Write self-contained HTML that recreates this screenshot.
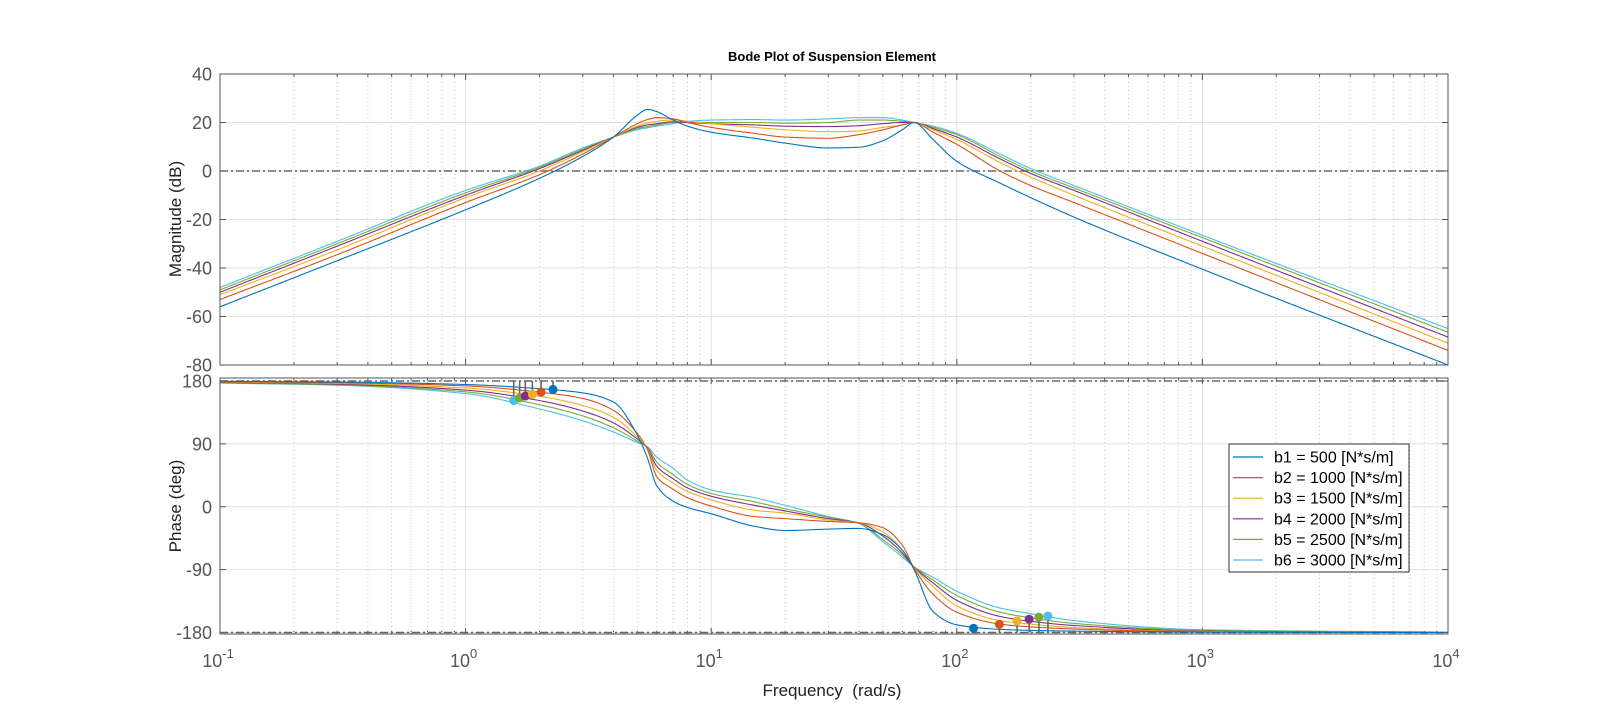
<!DOCTYPE html>
<html><head><meta charset="utf-8"><style>
html,body{margin:0;padding:0;background:#fff;}
svg{display:block;font-family:"Liberation Sans",Arial,sans-serif;}
</style></head><body>
<svg id="chart" width="1600" height="715" viewBox="0 0 1600 715"></svg>
<script>
const freqs=[0.1,0.3,1,2,3,4,5,5.5,6,7,8,10,15,20,30,40,50,60,67,80,100,150,200,300,1000,10000];
const seriesNames=["b1 = 500 [N*s/m]","b2 = 1000 [N*s/m]","b3 = 1500 [N*s/m]","b4 = 2000 [N*s/m]","b5 = 2500 [N*s/m]","b6 = 3000 [N*s/m]"];
const mag1=[-56,-37,-16,-3,6,14,23,25.4,24.5,21,18.5,16,13.5,11.5,9.5,9.8,12.5,17,20,13,4,-5,-11,-19,-40.5,-80];
const mag2=[-53,-34.5,-13,-1.5,7,14,19.5,21.2,22,21.5,20,18,15.5,14,13.5,15,17,19,20,16,11,0,-6,-13,-34,-74];
const mag3=[-51,-32.5,-11,0,8,14,18.5,19.8,20.5,21,20.5,19.5,18,17,16.2,16.5,18,19,20,17,13,3.5,-2.5,-10,-31,-71];
const mag4=[-50,-31,-10,1,8.5,14,18,19,19.5,20.3,20,19.5,19,18.5,18.3,18.7,19.5,20,20,17.5,14,5,-1,-8,-29,-68.5];
const mag5=[-49,-30,-9,1.5,9,14,17.5,18.3,19,20,20.2,20,20,19.7,20,21,21,20.5,20,18,15,6,0,-7,-27.5,-66.5];
const mag6=[-48,-29,-8,2,9.5,14,17,17.8,18.5,19.5,20.5,21,21.2,21,21.5,22,22,21,20,18.5,15.5,7,1,-6,-26.5,-65];
const ph1=[179.5,178.5,175,169,163,150,103,70,30,8,-1,-10,-28,-34,-32,-31,-40,-62,-90,-150,-169,-175.5,-177,-178,-179.5,-180];
const ph2=[179,177.5,173,164,155,138,105,82,43,25,13,1,-14,-17,-21,-23,-30,-55,-88,-125,-151,-168,-172,-175,-179,-180];
const ph3=[178.5,176.5,170,158,145,128,100,83,52,34,22,10,-5,-9,-19,-23,-36,-62,-87,-114,-142,-163,-168,-173,-178.5,-180];
const ph4=[178,175.5,167,152,137,120,97,84,58,40,27,15,2,-6,-17,-23,-42,-66,-86.5,-109,-134,-157,-164,-170,-178,-180];
const ph5=[177.5,174.5,164.5,146,130,113,94,85,64,46,32,19,7,-3,-15,-24,-47,-69,-86,-105,-127,-151,-159,-167,-177,-179.5];
const ph6=[177,174,162,140,123,107,92,86,71,55,38,24,13,2,-14,-24,-50,-72,-86,-101,-121,-145,-153,-163,-176,-179.5];
const lowMarkFreq=[2.27,2.03,1.87,1.75,1.66,1.57];
const lowMarkPhase=[168,164,161,158.5,155.7,152];
const highMarkFreq=[117,149,176,197,216,235];
const highMarkPhase=[-174,-168.3,-163.5,-161,-158,-156.4];
const magTicks=[40,20,0,-20,-40,-60,-80];
const phaseTicks=[180,90,0,-90,-180];
const decadeTicks=[-1,0,1,2,3,4];

const colors=["#0072BD","#D95319","#EDB120","#7E2F8E","#77AC30","#4DBEEE"];
const mags=[mag1,mag2,mag3,mag4,mag5,mag6];
const phs=[ph1,ph2,ph3,ph4,ph5,ph6];
const L=220,R=1448,T1=74,B1=365,T2=378,B2=634;
const xS=f=>L+(Math.log10(f)+1)*(R-L)/5;
const yM=d=>T1+(40-d)*(B1-T1)/120;
const yP=p=>381+(180-p)*(632.5-381)/360;
const NS="http://www.w3.org/2000/svg";
const svg=document.getElementById("chart");
function el(tag,attrs,parent){const e=document.createElementNS(NS,tag);for(const k in attrs)e.setAttribute(k,attrs[k]);(parent||svg).appendChild(e);return e;}

function pchip(xs,ys,x){
  const n=xs.length;let i=0;while(i<n-2&&x>xs[i+1])i++;
  const h=[],d=[];for(let k=0;k<n-1;k++){h.push(xs[k+1]-xs[k]);d.push((ys[k+1]-ys[k])/h[k]);}
  const m=new Array(n);m[0]=d[0];m[n-1]=d[n-2];
  for(let k=1;k<n-1;k++){if(d[k-1]*d[k]<=0)m[k]=0;else{const w1=2*h[k]+h[k-1],w2=h[k]+2*h[k-1];m[k]=(w1+w2)/(w1/d[k-1]+w2/d[k]);}}
  const t=(x-xs[i])/h[i],t2=t*t,t3=t2*t;
  return (2*t3-3*t2+1)*ys[i]+(t3-2*t2+t)*h[i]*m[i]+(-2*t3+3*t2)*ys[i+1]+(t3-t2)*h[i]*m[i+1];
}
const lx=freqs.map(f=>Math.log10(f));

function drawAxes(T,B,name,yTicks,yFn){
  const g=el("g",{}),gr=el("g",{},g);
  
  
  el("rect",{x:L,y:T,width:R-L,height:B-T,fill:"#fff"},gr);
  for(let d=-1;d<4;d++)for(let k=2;k<=9;k++){const x=xS(k*Math.pow(10,d));
    el("line",{x1:x,x2:x,y1:T,y2:B,stroke:"#c8c8c8","stroke-width":1,"stroke-dasharray":"1,3"},gr);
    el("line",{x1:x,x2:x,y1:B,y2:B-3,stroke:"#555"},gr);el("line",{x1:x,x2:x,y1:T,y2:T+3,stroke:"#555"},gr);}
  decadeTicks.forEach(d=>{const x=xS(Math.pow(10,d));
    el("line",{x1:x,x2:x,y1:T,y2:B,stroke:"#e0e0e0"},gr);
    el("line",{x1:x,x2:x,y1:B,y2:B-6,stroke:"#555"},gr);el("line",{x1:x,x2:x,y1:T,y2:T+6,stroke:"#555"},gr);});
  yTicks.forEach(v=>{const y=yFn(v);
    el("line",{x1:L,x2:R,y1:y,y2:y,stroke:"#e0e0e0"},gr);
    el("line",{x1:L,x2:L+6,y1:y,y2:y,stroke:"#555"},gr);el("line",{x1:R,x2:R-6,y1:y,y2:y,stroke:"#555"},gr);
    const t=el("text",{x:L-8,y:y+6.5,"text-anchor":"end","font-size":18,fill:"#555"},g);t.textContent=String(v);
    
    });
  return g;
}
drawAxes(T1,B1,"magnitude-axes",magTicks,yM);
drawAxes(T2,B2,"phase-axes",phaseTicks,yP);

function refLine(y,name){const l=el("line",{x1:L,x2:R,y1:y,y2:y,stroke:"#666","stroke-width":1.6,"stroke-dasharray":"8,3,2,3"});
  
  }
refLine(yM(0),"zero-db-line");refLine(yP(180),"phase-180-line");refLine(yP(-180),"phase-minus180-line");

function curve(vals,yFn,i,name){
  let d="";for(let k=0;k<=600;k++){const x=-1+5*k/600;const v=pchip(lx,vals,x);d+=(k?"L":"M")+xS(Math.pow(10,x)).toFixed(2)+","+yFn(v).toFixed(2);}
  const p=el("path",{d:d,fill:"none",stroke:colors[i],"stroke-width":1.1});
  
  
}
for(let i=5;i>=0;i--){curve(mags[i],yM,i,"magnitude-line-b"+(i+1));}
for(let i=5;i>=0;i--){curve(phs[i],yP,i,"phase-line-b"+(i+1));}

function marker(f,p,i,from,name){const x=xS(f),y=yP(p);
  el("line",{x1:x,x2:x,y1:yP(from),y2:y,stroke:"#666","stroke-width":1.6});
  const c=el("circle",{cx:x,cy:y,r:4.5,fill:colors[i]});
  
  }
for(let i=5;i>=0;i--){marker(lowMarkFreq[i],lowMarkPhase[i],i,180,"low-crossover-marker-b"+(i+1));}
for(let i=5;i>=0;i--){marker(highMarkFreq[i],highMarkPhase[i],i,-180,"high-crossover-marker-b"+(i+1));}

el("rect",{x:L,y:T1,width:R-L,height:B1-T1,fill:"none",stroke:"#555","stroke-width":1});
el("rect",{x:L,y:T2,width:R-L,height:B2-T2,fill:"none",stroke:"#555","stroke-width":1});

decadeTicks.forEach(d=>{const x=xS(Math.pow(10,d));
  const t=el("text",{x:x-2,y:667,"text-anchor":"middle","font-size":18,fill:"#555"});
  
  
  const a=el("tspan",{},t);a.textContent="10";
  const b=el("tspan",{dy:-9,"font-size":13},t);b.textContent=String(d);});

const lg=el("g",{});


el("rect",{x:1229,y:444,width:180,height:128,fill:"#fff",stroke:"#333","stroke-width":1},lg);
seriesNames.forEach((s,i)=>{const y=457+i*20.6;
  el("line",{x1:1233,x2:1263,y1:y,y2:y,stroke:colors[i],"stroke-width":1.2},lg);
  const t=el("text",{x:1274,y:y+5.5,"font-size":16,fill:"#000"},lg);t.textContent=s;
  
  });
</script>
<div style="position:absolute;left:0;top:0;width:1600px;height:715px;pointer-events:none;font-family:'Liberation Sans',Arial,sans-serif;">
  <div style="position:absolute;left:632px;width:400px;top:49px;text-align:center;font-size:13px;font-weight:bold;color:#000;">Bode Plot of Suspension Element</div>
  <div style="position:absolute;left:76px;top:209px;width:200px;text-align:center;font-size:17px;color:#222;transform:rotate(-90deg);">Magnitude (dB)</div>
  <div style="position:absolute;left:76px;top:496px;width:200px;text-align:center;font-size:17px;color:#222;transform:rotate(-90deg);">Phase (deg)</div>
  <div style="position:absolute;left:682px;top:681px;width:300px;text-align:center;font-size:17px;color:#222;white-space:pre;">Frequency  (rad/s)</div>
</div>
</body></html>
